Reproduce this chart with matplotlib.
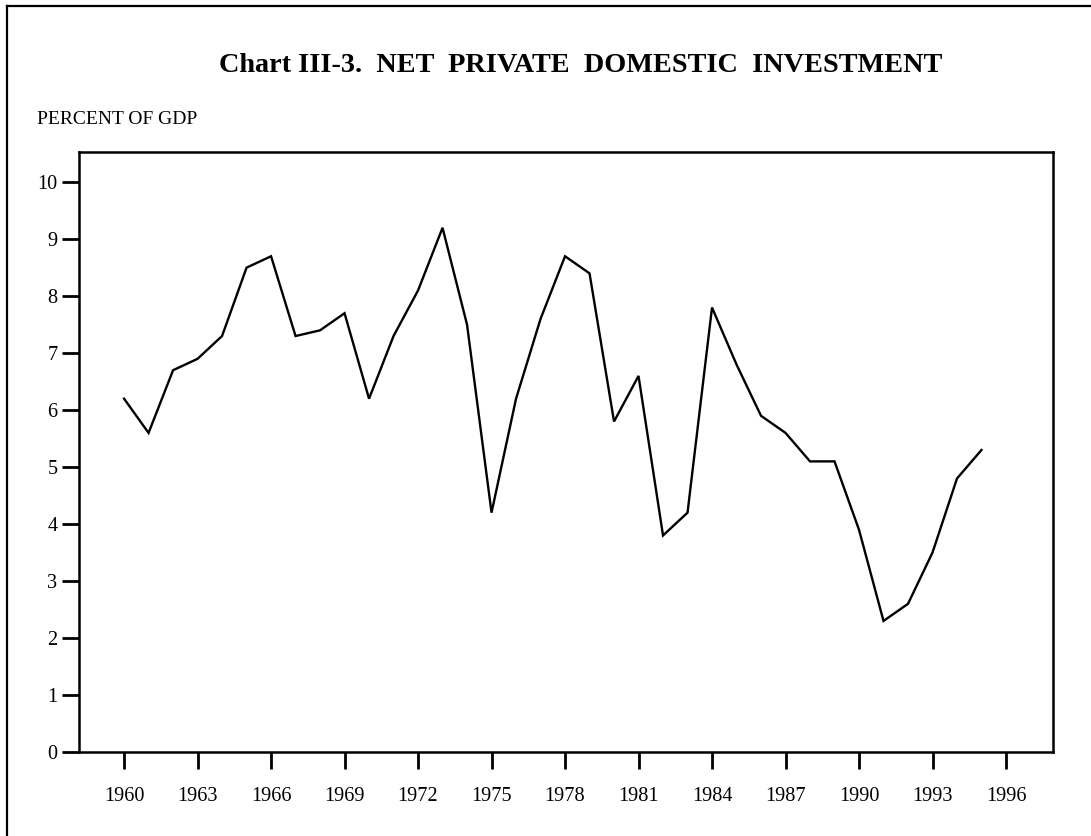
import matplotlib
matplotlib.use("Agg")
import matplotlib.pyplot as plt
from matplotlib.lines import Line2D

years = list(range(1960, 1996))
values = [6.2, 5.6, 6.7, 6.9, 7.3, 8.5, 8.7, 7.3, 7.4, 7.7,
          6.2, 7.3, 8.1, 9.2, 7.5, 4.2, 6.2, 7.6, 8.7, 8.4,
          5.8, 6.6, 3.8, 4.2, 7.8, 6.8, 5.9, 5.6, 5.1, 5.1,
          3.9, 2.3, 2.6, 3.5, 4.8, 5.3]
x_ticks = list(range(1960, 1997, 3))
y_ticks = list(range(0, 11))
title = "Chart III-3.  NET  PRIVATE  DOMESTIC  INVESTMENT"
ylabel = "PERCENT OF GDP"

plt.rcParams['font.family'] = ['Liberation Serif', 'DejaVu Serif']

fig = plt.figure(figsize=(10.91, 8.36), dpi=100)
ax = fig.add_axes([0.0724, 0.1005, 0.8928, 0.7177])

ax.plot(years, values, color='black', lw=1.7, solid_joinstyle='miter')

ax.set_xlim(1958.16, 1997.92)
ax.set_ylim(0, 10.53)
ax.set_xticks(x_ticks)
ax.set_yticks(y_ticks)
ax.tick_params(axis='both', direction='out', length=12.5, width=2, labelsize=14.6, color='black')
ax.tick_params(axis='x', pad=12.5)
ax.tick_params(axis='y', pad=3)
for s in ax.spines.values():
    s.set_linewidth(1.8)
    s.set_color('black')

fig.text(0.5326, 1 - 72/836, title, ha='center', va='baseline',
         fontsize=20.3, fontweight='bold')
fig.text(37/1091, 1 - 124/836, ylabel, ha='left', va='baseline', fontsize=14)

# outer frame lines (top and left)
fig.add_artist(Line2D([7/1091, 1.0], [1 - 5.5/836, 1 - 5.5/836], transform=fig.transFigure,
                      color='black', lw=1.6))
fig.add_artist(Line2D([7/1091, 7/1091], [0, 1 - 5.5/836], transform=fig.transFigure,
                      color='black', lw=1.6))

fig.savefig("out.png", dpi=100)
